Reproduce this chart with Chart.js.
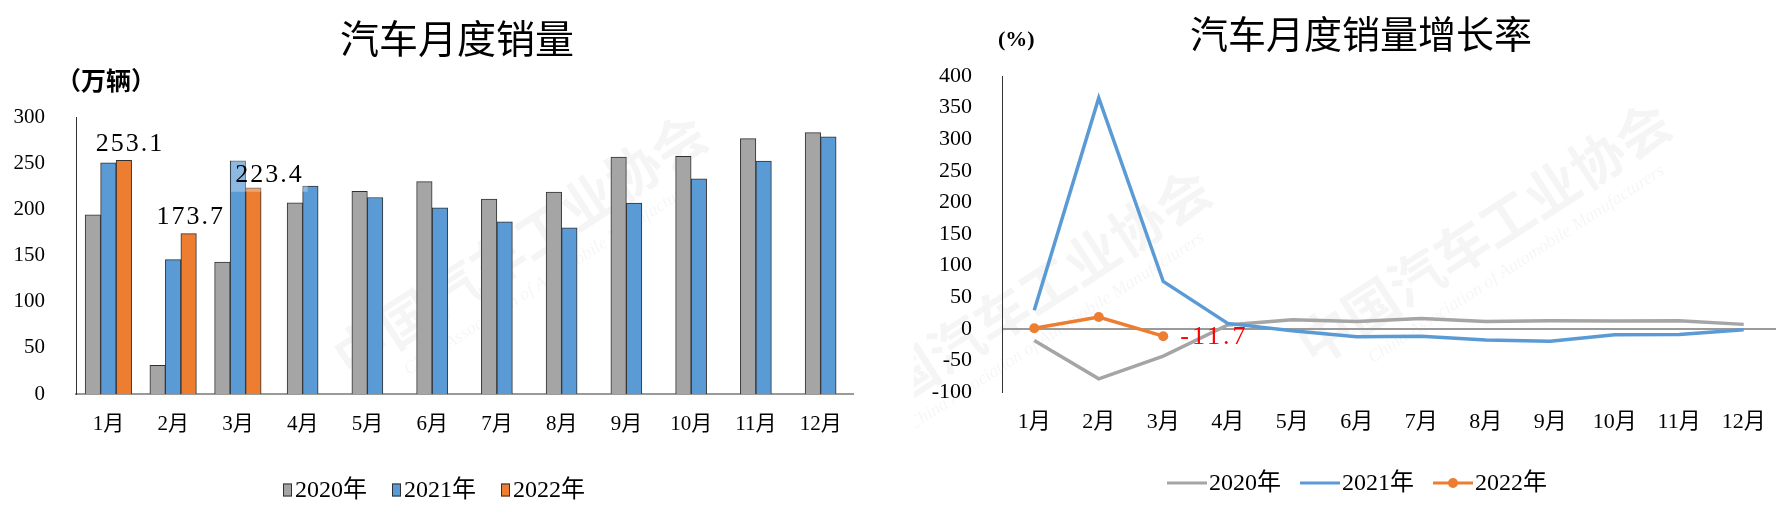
<!DOCTYPE html>
<html>
<head>
<meta charset="utf-8">
<script src="https://cdn.jsdelivr.net/npm/chart.js@4.4.1/dist/chart.umd.min.js"></script>
<style>
html, body { margin: 0; padding: 0; background: #fff; }
#wrap { position: relative; width: 1783px; height: 513px; overflow: hidden; }
#salesChart { position: absolute; left: 0; top: 0; }
#growthChart { position: absolute; left: 914px; top: 0; }
</style>
</head>
<body>
<div id="wrap">
  <canvas id="salesChart" width="914" height="513"></canvas>
  <canvas id="growthChart" width="869" height="513"></canvas>
</div>
<script>
var months = ["1月", "2月", "3月", "4月", "5月", "6月", "7月", "8月", "9月", "10月", "11月", "12月"];
var yearLabels = ["2020年", "2021年", "2022年"];
var yearColors = ["#A5A5A5", "#5B9BD5", "#ED7D31"];

// monthly sales, 10k vehicles
var sales2020 = [194.1, 31.0, 143.0, 207.0, 219.4, 230.0, 211.2, 218.6, 256.5, 257.3, 276.6, 283.1];
var sales2021 = [250.3, 145.5, 252.6, 225.2, 212.8, 201.5, 186.4, 179.9, 206.7, 233.1, 252.2, 278.6];
var sales2022 = [253.1, 173.7, 223.4, null, null, null, null, null, null, null, null, null];
var salesRange = [0, 300, 50];

// year-on-year growth, %
var growth2020 = [-18.7, -79.1, -43.3, 6.0, 14.5, 11.6, 16.4, 11.6, 12.8, 12.5, 12.6, 7.0];
var growth2021 = [29.5, 365.4, 74.9, 8.6, -3.1, -12.4, -11.9, -17.8, -19.6, -9.4, -9.1, -1.6];
var growth2022 = [0.9, 18.7, -11.7];
var growthRange = [-100, 400, 50];

Chart.defaults.font.family = '"Liberation Serif", "Noto Sans CJK SC", serif';
Chart.defaults.color = "#000";

var cjk = '"Noto Sans CJK SC", sans-serif';
var serif = '"Liberation Serif", "Noto Sans CJK SC", serif';

// faint association watermark
var watermark = {
    id: "watermark",
    beforeDraw: function (chart, args, opts) {
        var ctx = chart.ctx;
        opts.marks.forEach(function (m) {
            ctx.save();
            ctx.translate(m.x, m.y);
            ctx.rotate(-33 * Math.PI / 180);
            ctx.fillStyle = "rgba(0,0,0,0.04)";
            ctx.textAlign = "center";
            ctx.textBaseline = "middle";
            ctx.font = "bold 54px " + cjk;
            ctx.fillText("中国汽车工业协会", 0, 0);
            ctx.font = "italic 18px " + serif;
            ctx.fillText("China Association of Automobile Manufacturers", 10, 44);
            ctx.restore();
        });
    }
};

var headings = {
    id: "headings",
    afterDraw: function (chart, args, opts) {
        var ctx = chart.ctx;
        ctx.save();
        ctx.fillStyle = "#000";
        ctx.textBaseline = "middle";
        ctx.textAlign = "center";
        ctx.font = opts.titleFont;
        ctx.fillText(opts.title, opts.titleX, opts.titleY);
        ctx.textAlign = "left";
        ctx.font = opts.unitFont;
        ctx.fillText(opts.unit, opts.unitX, opts.unitY);
        ctx.restore();
    }
};

// legend drawn by hand so the symbol/text gaps match the original
var keyLegend = {
    id: "keyLegend",
    afterDraw: function (chart, args, opts) {
        var ctx = chart.ctx;
        var sets = chart.data.datasets;
        ctx.save();
        ctx.font = opts.font;
        ctx.textBaseline = "middle";
        ctx.textAlign = "left";
        var widths = sets.map(function (ds) {
            return opts.symbolWidth + opts.gap + ctx.measureText(ds.label).width;
        });
        var total = widths.reduce(function (a, b) { return a + b; }, 0) + opts.spacing * (sets.length - 1);
        var x = opts.centerX - total / 2;
        var y = opts.y;
        sets.forEach(function (ds, i) {
            var color = yearColors[i];
            if (opts.kind === "box") {
                ctx.fillStyle = color;
                ctx.fillRect(x, y - 6.5, opts.symbolWidth, 13);
                ctx.strokeStyle = "#303030";
                ctx.lineWidth = 1;
                ctx.strokeRect(x + 0.5, y - 6, opts.symbolWidth - 1, 12);
            } else {
                ctx.strokeStyle = color;
                ctx.lineWidth = 3;
                ctx.beginPath();
                ctx.moveTo(x, y);
                ctx.lineTo(x + opts.symbolWidth, y);
                ctx.stroke();
                if (ds.pointRadius > 0) {
                    ctx.fillStyle = color;
                    ctx.beginPath();
                    ctx.arc(x + opts.symbolWidth / 2, y, 5, 0, Math.PI * 2);
                    ctx.fill();
                }
            }
            ctx.fillStyle = "#000";
            ctx.fillText(ds.label, x + opts.symbolWidth + opts.gap, y + 1);
            x += widths[i] + opts.spacing;
        });
        ctx.restore();
    }
};

// value labels attached to chosen points of one dataset
var valueTags = {
    id: "valueTags",
    afterDatasetsDraw: function (chart, args, opts) {
        var ctx = chart.ctx;
        var meta = chart.getDatasetMeta(opts.datasetIndex);
        var values = chart.data.datasets[opts.datasetIndex].data;
        ctx.save();
        ctx.font = opts.font;
        ctx.letterSpacing = opts.letterSpacing;
        ctx.textBaseline = opts.baseline;
        opts.tags.forEach(function (t) {
            var el = meta.data[t.index];
            var text = values[t.index].toFixed(1);
            var x = el.x + t.dx;
            var y = el.y + t.dy;
            ctx.textAlign = t.align;
            if (t.backdrop) {
                var w = ctx.measureText(text).width;
                ctx.fillStyle = "rgba(255,255,255,0.3)";
                ctx.fillRect(x - w / 2 - 4, y - 22, w + 8, 32);
            }
            ctx.fillStyle = opts.color;
            ctx.fillText(text, x, y);
        });
        ctx.restore();
    }
};

new Chart("salesChart", {
    type: "bar",
    data: {
        labels: months,
        datasets: [
            { label: yearLabels[0], data: sales2020, backgroundColor: yearColors[0] },
            { label: yearLabels[1], data: sales2021, backgroundColor: yearColors[1] },
            { label: yearLabels[2], data: sales2022, backgroundColor: yearColors[2] }
        ]
    },
    options: {
        responsive: false,
        animation: false,
        layout: { padding: { top: 117, right: 61, bottom: 59, left: 0 } },
        datasets: {
            bar: { barThickness: 15.5, skipNull: true, borderColor: "#303030", borderWidth: 1 }
        },
        scales: {
            x: {
                grid: { display: false, drawTicks: false },
                border: { color: "#9a9a9a", width: 2 },
                ticks: { padding: 18, font: { size: 21 } },
                afterFit: function (s) { s.height = 60; }
            },
            y: {
                min: salesRange[0],
                max: salesRange[1],
                grid: { display: false, drawTicks: false },
                border: { color: "#333", width: 1 },
                ticks: { stepSize: salesRange[2], padding: 31, font: { size: 21 } },
                afterFit: function (s) { s.width = 76; }
            }
        },
        plugins: {
            legend: { display: false },
            tooltip: { enabled: false },
            watermark: { marks: [{ x: 520, y: 245 }] },
            headings: {
                title: "汽车月度销量", titleX: 457, titleY: 38, titleFont: "39px " + cjk,
                unit: "（万辆）", unitX: 56, unitY: 80, unitFont: "bold 25px " + cjk
            },
            keyLegend: { kind: "box", font: "24px " + serif, symbolWidth: 9, gap: 3, spacing: 25, centerX: 434, y: 490 },
            valueTags: {
                datasetIndex: 2,
                font: "26px " + serif,
                letterSpacing: "2px",
                color: "#000",
                baseline: "alphabetic",
                tags: [
                    { index: 0, dx: 6, dy: -9, align: "center", backdrop: false },
                    { index: 1, dx: 2, dy: -10, align: "center", backdrop: false },
                    { index: 2, dx: 16, dy: -6, align: "center", backdrop: true }
                ]
            }
        }
    },
    plugins: [watermark, headings, keyLegend, valueTags]
});

new Chart("growthChart", {
    type: "line",
    data: {
        labels: months,
        datasets: [
            { label: yearLabels[0], data: growth2020, borderColor: yearColors[0], backgroundColor: yearColors[0], pointRadius: 0, order: 2 },
            { label: yearLabels[1], data: growth2021, borderColor: yearColors[1], backgroundColor: yearColors[1], pointRadius: 0, order: 1 },
            { label: yearLabels[2], data: growth2022, borderColor: yearColors[2], backgroundColor: yearColors[2], pointRadius: 5, pointBorderWidth: 0, order: 0 }
        ]
    },
    options: {
        responsive: false,
        animation: false,
        layout: { padding: { top: 76, right: 7, bottom: 61, left: 0 } },
        elements: { line: { borderWidth: 3.5, tension: 0 } },
        scales: {
            x: {
                offset: true,
                grid: { display: false, drawTicks: false },
                border: { display: false },
                ticks: { padding: 17, font: { size: 22 } },
                afterFit: function (s) { s.height = 60; }
            },
            y: {
                min: growthRange[0],
                max: growthRange[1],
                grid: {
                    drawTicks: false,
                    lineWidth: 2,
                    color: function (c) { return c.tick && c.tick.value === 0 ? "#9a9a9a" : "rgba(0,0,0,0)"; }
                },
                border: { color: "#333", width: 1 },
                ticks: { stepSize: growthRange[2], padding: 30, font: { size: 22 } },
                afterFit: function (s) { s.width = 88; }
            }
        },
        plugins: {
            legend: { display: false },
            tooltip: { enabled: false },
            watermark: { marks: [{ x: 570, y: 233 }, { x: 110, y: 300 }] },
            headings: {
                title: "汽车月度销量增长率", titleX: 447, titleY: 34, titleFont: "38px " + cjk,
                unit: "(%)", unitX: 84, unitY: 40, unitFont: "bold 22px " + serif
            },
            keyLegend: { kind: "line", font: "24px " + serif, symbolWidth: 40, gap: 2, spacing: 19, centerX: 443, y: 483 },
            valueTags: {
                datasetIndex: 2,
                font: "26px " + serif,
                letterSpacing: "3px",
                color: "#FF0000",
                baseline: "middle",
                tags: [
                    { index: 2, dx: 17, dy: 1, align: "left", backdrop: false }
                ]
            }
        }
    },
    plugins: [watermark, headings, keyLegend, valueTags]
});
</script>
</body>
</html>
